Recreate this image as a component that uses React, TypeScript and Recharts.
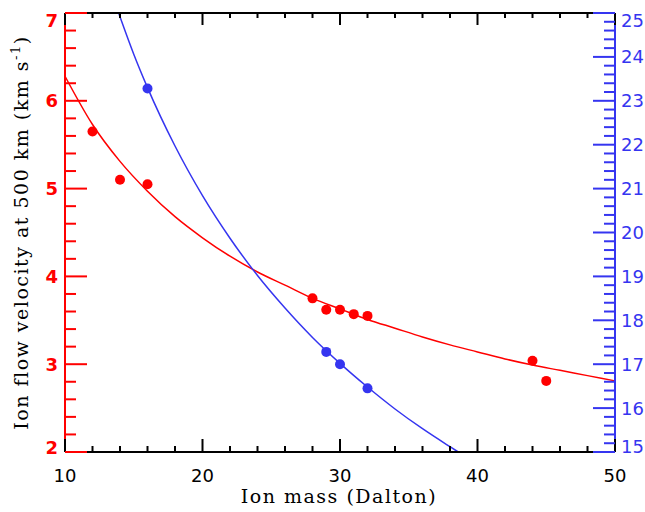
import { ComposedChart, Line, Scatter, XAxis, YAxis } from "recharts";

const RED = "#ff0000";
const BLUE = "#3535f0";

// tick labels
const massLabels = [10, 20, 30, 40, 50];
const leftLabels = [2, 3, 4, 5, 6, 7];
const rightLabels = [15, 16, 17, 18, 19, 20, 21, 22, 23, 24, 25];

// measured ions (red: left axis, blue: right axis)
const redMass = [12, 14, 16, 28, 29, 30, 31, 32, 44, 45];
const redVel = [5.65, 5.1, 5.05, 3.75, 3.62, 3.62, 3.57, 3.55, 3.04, 2.81];
const blueMass = [16, 29, 30, 32];
const blueVel = [23.28, 17.28, 17.0, 16.45];

// fitted curves
const redFitMass = [10, 12, 14, 16, 18, 20, 22, 24, 26, 28, 30, 32, 34, 36, 38, 40, 42, 44, 46, 48, 50];
const redFitVel = [6.28, 5.73, 5.31, 4.97, 4.68, 4.44, 4.23, 4.05, 3.9, 3.75, 3.63, 3.51, 3.41, 3.31, 3.22, 3.14, 3.06, 2.99, 2.93, 2.87, 2.81];
const blueFitMass = [13.9, 15, 16, 18, 20, 22, 24, 26, 28, 30, 32, 34, 36, 38, 38.6];
const blueFitVel = [25.0, 24.06, 23.3, 21.97, 20.84, 19.87, 19.02, 18.28, 17.61, 17.02, 16.48, 15.98, 15.53, 15.12, 15.0];

const zip = (m: number[], v: number[]) => m.map((x, i) => ({ m: x, v: v[i] }));

// minor tick positions between the labelled ones
const steps = (lo: number, hi: number, step: number) =>
  Array.from({ length: Math.round((hi - lo) / step) + 1 }, (_, i) => +(lo + i * step).toFixed(3));

const isMajor = (v: number, labels: number[]) => labels.some((l) => Math.abs(l - v) < 1e-6);

const tickFont = { fontFamily: "DejaVu Sans", fontSize: 18 };
const titleFont = { fontFamily: "DejaVu Serif", fontSize: 19, letterSpacing: 1.5 };

function BottomTick({ x, y, payload }: any) {
  const major = isMajor(payload.value, massLabels);
  return (
    <g>
      <line x1={x} x2={x} y1={y} y2={y - (major ? 13 : 6)} stroke="#000" strokeWidth={2} />
      {major && (
        <text x={x} y={y + 30} textAnchor="middle" fill="#000" {...tickFont}>
          {payload.value}
        </text>
      )}
    </g>
  );
}

function TopTick({ x, y, payload }: any) {
  const major = isMajor(payload.value, massLabels);
  return <line x1={x} x2={x} y1={y} y2={y + (major ? 12 : 5)} stroke="#000" strokeWidth={2} />;
}

function LeftTick({ x, y, payload }: any) {
  const v = payload.value;
  const major = isMajor(v, leftLabels);
  const shift = v === 7 ? 7 : v === 2 ? -5 : 0;
  return (
    <g>
      <line x1={x} x2={x + (major ? 22 : 11)} y1={y} y2={y} stroke={RED} strokeWidth={2} />
      {major && (
        <text x={x - 7} y={y + shift + 6.5} textAnchor="end" fill={RED} fontWeight="bold" {...tickFont}>
          {v}
        </text>
      )}
    </g>
  );
}

function RightTick({ x, y, payload }: any) {
  const v = payload.value;
  const major = isMajor(v, rightLabels);
  const shift = v === 25 ? 7 : v === 15 ? -6 : 0;
  return (
    <g>
      <line x1={x} x2={x - (major ? 22 : 11)} y1={y} y2={y} stroke={BLUE} strokeWidth={2} />
      {major && (
        <text x={x + 6} y={y + shift + 6.5} textAnchor="start" fill={BLUE} {...tickFont}>
          {v}
        </text>
      )}
    </g>
  );
}

const dot = (color: string) => (p: any) => <circle cx={p.cx} cy={p.cy} r={5} fill={color} />;
const noDot = () => <g />;

export default function App() {
  return (
    <div style={{ position: "fixed", left: 0, top: 0, background: "#fff" }}>
      <ComposedChart width={645} height={512} margin={{ top: 3, right: 0, bottom: 0, left: 0 }}>
        <XAxis
          xAxisId="t"
          orientation="top"
          dataKey="m"
          type="number"
          domain={[10, 50]}
          ticks={steps(10, 50, 2)}
          interval={0}
          height={10}
          tickSize={0}
          tickMargin={0}
          tick={TopTick}
          axisLine={{ stroke: "#000", strokeWidth: 2 }}
        />
        <XAxis
          xAxisId="b"
          dataKey="m"
          type="number"
          domain={[10, 50]}
          ticks={steps(10, 50, 2)}
          interval={0}
          height={60}
          tickSize={0}
          tickMargin={0}
          tick={BottomTick}
          axisLine={{ stroke: "#000", strokeWidth: 2 }}
          label={{
            content: () => (
              <text x={339} y={503} textAnchor="middle" fill="#000" {...titleFont}>
                Ion mass (Dalton)
              </text>
            ),
          }}
        />
        <YAxis
          yAxisId="l"
          dataKey="v"
          type="number"
          domain={[2, 7]}
          ticks={steps(2, 7, 0.2)}
          interval={0}
          width={65}
          tickSize={0}
          tickMargin={0}
          tick={LeftTick}
          axisLine={{ stroke: RED, strokeWidth: 2 }}
          label={{
            content: () => (
              <text x={28} y={232.5} transform="rotate(-90 28 232.5)" textAnchor="middle" fill="#000" {...titleFont}>
                Ion flow velocity at 500 km (km s
                <tspan dy={-8} fontSize={13}>
                  -1
                </tspan>
                <tspan dy={8}>)</tspan>
              </text>
            ),
          }}
        />
        <YAxis
          yAxisId="r"
          orientation="right"
          dataKey="v"
          type="number"
          domain={[15, 25]}
          ticks={steps(15, 25, 0.2)}
          interval={0}
          width={30}
          tickSize={0}
          tickMargin={0}
          tick={RightTick}
          axisLine={{ stroke: BLUE, strokeWidth: 2 }}
        />
        {/* invisible copy of the red points so the top axis has a series */}
        <Scatter
          data={zip(redMass, redVel)}
          xAxisId="t"
          yAxisId="l"
          dataKey="v"
          shape={noDot}
          isAnimationActive={false}
        />
        <Line
          data={zip(redFitMass, redFitVel)}
          xAxisId="b"
          yAxisId="l"
          dataKey="v"
          type="monotone"
          stroke={RED}
          strokeWidth={1.5}
          dot={false}
          isAnimationActive={false}
        />
        <Line
          data={zip(blueFitMass, blueFitVel)}
          xAxisId="b"
          yAxisId="r"
          dataKey="v"
          type="monotone"
          stroke={BLUE}
          strokeWidth={1.5}
          dot={false}
          isAnimationActive={false}
        />
        <Scatter
          data={zip(redMass, redVel)}
          xAxisId="b"
          yAxisId="l"
          dataKey="v"
          fill={RED}
          shape={dot(RED)}
          isAnimationActive={false}
        />
        <Scatter
          data={zip(blueMass, blueVel)}
          xAxisId="b"
          yAxisId="r"
          dataKey="v"
          fill={BLUE}
          shape={dot(BLUE)}
          isAnimationActive={false}
        />
      </ComposedChart>
    </div>
  );
}
